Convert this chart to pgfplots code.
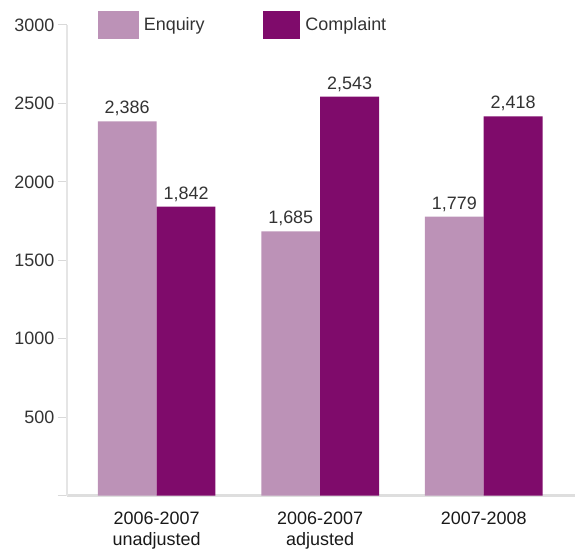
\documentclass[border=0pt]{standalone}
\usepackage{pgfplots}
\pgfplotsset{compat=1.18}
\usepackage{fontspec}
\setmainfont{Liberation Sans}
\definecolor{enq}{HTML}{BC92B7}
\definecolor{comp}{HTML}{7F0B6B}
\definecolor{txt}{HTML}{333333}
\begin{document}
\begin{tikzpicture}
\begin{axis}[
  name=ax,
  scale only axis, width=509pt, height=472pt,
  xmin=-0.549, xmax=2.555, ymin=0, ymax=3000,
  ybar=0pt, bar width=59pt,
  axis x line*=bottom, axis y line*=left,
  x axis line style={draw=black!13, line width=3pt, -},
  y axis line style={draw=black!10, line width=1.5pt, -},
  xtick={0,1,2},
  xticklabels={{2006-2007\\unadjusted},{2006-2007\\adjusted},{2007-2008}},
  xtick style={draw=none},
  xticklabel style={font=\fontsize{18}{21}\selectfont, align=center, text=black!90, yshift=-4pt},
  ytick={0,500,...,3000},
  yticklabels={,500,1000,1500,2000,2500,3000},
  ytick style={draw=black!15, line width=1pt},
  tick align=outside, major tick length=9pt,
  yticklabel style={font=\fontsize{18}{20}\selectfont, text=txt},
  nodes near coords={\pgfmathprintnumber[assume math mode=true,1000 sep={,}]{\pgfplotspointmeta}},
  nodes near coords style={font=\fontsize{18}{20}\selectfont, text=txt, inner sep=2pt, yshift=3pt},
  legend columns=2,
  legend style={draw=none, fill=none, at={(rel axis cs:0.055,1)}, anchor=west,
    font=\fontsize{18}{20}\selectfont, text=txt,
    /tikz/every odd column/.append style={column sep=3pt},
    /tikz/every even column/.append style={column sep=56pt}},
]
\addplot[fill=enq, draw=none, legend image code/.code={\fill[enq] (0pt,-14pt) rectangle (41pt,14pt);}]
  coordinates {(0,2386) (1,1685) (2,1779)};
\addplot[fill=comp, draw=none, legend image code/.code={\fill[comp] (0pt,-14pt) rectangle (38pt,14pt);}]
  coordinates {(0,1842) (1,2543) (2,2418)};
\legend{Enquiry, Complaint}
\end{axis}
\path ([xshift=-67pt,yshift=-54pt]ax.south west) rectangle ([yshift=25pt]ax.north east);
\end{tikzpicture}
\end{document}
